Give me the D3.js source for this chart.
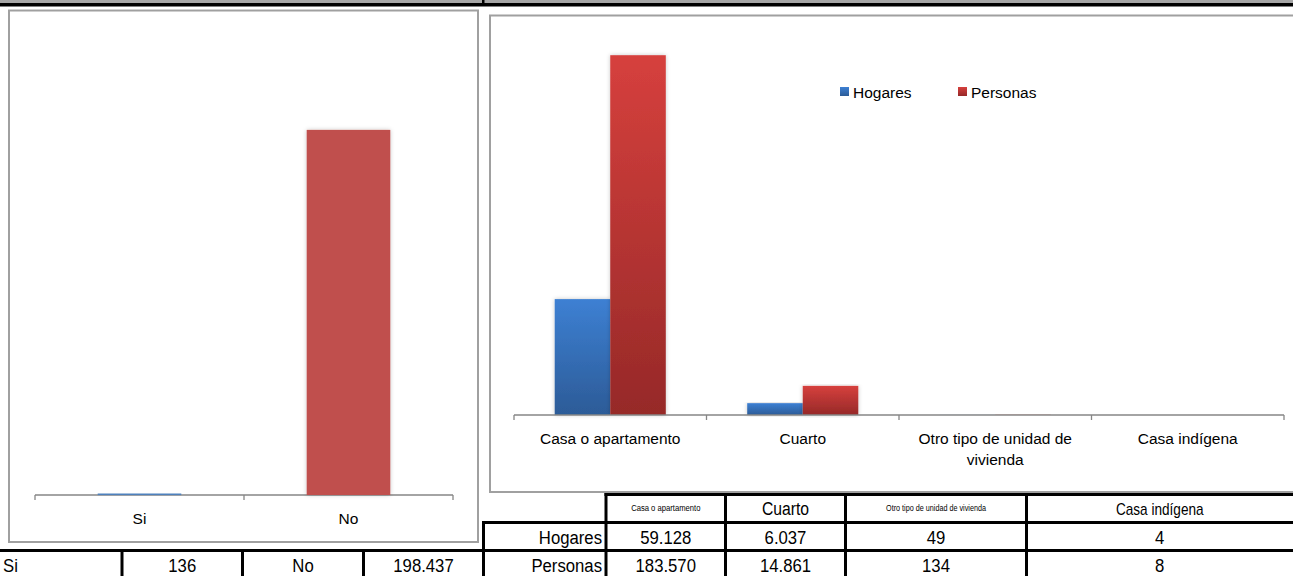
<!DOCTYPE html>
<html><head><meta charset="utf-8">
<script src="https://cdn.jsdelivr.net/npm/d3@7/dist/d3.min.js"></script>
<style>
body{margin:0;background:#fff;}
svg{display:block;}
text{font-family:"Liberation Sans",Arial,sans-serif;fill:#000;}
</style></head><body>
<svg id="c" width="1293" height="576"></svg>
<script>
// ---- data ----
const leftCategories = ["Si", "No"];
const leftValues = [136, 198437];
const categories = ["Casa o apartamento", "Cuarto", "Otro tipo de unidad de vivienda", "Casa indígena"];
const seriesNames = ["Hogares", "Personas"];
const hogares = [59128, 6037, 49, 4];
const personas = [183570, 14861, 134, 8];

const svg = d3.select("#c");
const loc = d3.formatLocale({decimal: ",", thousands: ".", grouping: [3], currency: ["$", ""]});
const fmt = loc.format(",d");

const defs = svg.append("defs");
const f = defs.append("filter").attr("id", "sh").attr("x", "-20%").attr("y", "-5%").attr("width", "140%").attr("height", "115%");
f.append("feDropShadow").attr("dx", 0).attr("dy", 0).attr("stdDeviation", 2.2).attr("flood-color", "#000").attr("flood-opacity", 0.22);
function grad(id, c1, c2) {
  const g = defs.append("linearGradient").attr("id", id).attr("x1", 0).attr("y1", 0).attr("x2", 0).attr("y2", 1);
  g.append("stop").attr("offset", "0%").attr("stop-color", c1);
  g.append("stop").attr("offset", "100%").attr("stop-color", c2);
}
grad("gB", "#3d80d3", "#2c5b97");
grad("gR", "#d6403d", "#962928");
const seriesFill = ["url(#gB)", "url(#gR)"];

// ---- top band ----
svg.append("rect").attr("x", 0).attr("y", 0).attr("width", 1293).attr("height", 3.5).attr("fill", "#a6a6a6");
svg.append("rect").attr("x", 0).attr("y", 3).attr("width", 1293).attr("height", 3.5).attr("fill", "#000");
svg.append("rect").attr("x", 482).attr("y", 0).attr("width", 2.5).attr("height", 4).attr("fill", "#000");

// ---- left chart frame ----
svg.append("rect").attr("x", 9).attr("y", 10.5).attr("width", 469).attr("height", 531.5)
  .attr("fill", "#fff").attr("stroke", "#a0a0a0").attr("stroke-width", 2);

const lx = d3.scaleBand().domain(leftCategories).range([35, 453]).paddingInner(0).paddingOuter(0);
const ly = d3.scaleLinear().domain([0, 250000]).range([495, 35]);
const lcol = ["#4f81bd", "#c0504d"];

const lax = svg.append("g").attr("transform", "translate(0,495)")
  .call(d3.axisBottom(lx).tickSize(0).tickPadding(0).tickFormat(""));
lax.select(".domain").remove();
lax.append("line").attr("x1", 35).attr("x2", 453).attr("stroke", "#868686").attr("stroke-width", 1.3);
[35, 244, 453].forEach(x => lax.append("line").attr("x1", x).attr("x2", x).attr("y1", 0).attr("y2", 5).attr("stroke", "#868686").attr("stroke-width", 1.3));

svg.append("g").selectAll("rect").data(leftValues).join("rect")
  .attr("x", (d, i) => lx(leftCategories[i]) + lx.bandwidth() * 0.3)
  .attr("width", lx.bandwidth() * 0.4)
  .attr("y", d => Math.min(ly(d), 493.5))
  .attr("height", d => Math.max(495 - ly(d), 1.6))
  .attr("fill", (d, i) => lcol[i])
  .attr("filter", (d, i) => i === 1 ? "url(#sh)" : null);

svg.append("g").selectAll("text").data(leftCategories).join("text")
  .attr("x", d => lx(d) + lx.bandwidth() / 2).attr("y", 524)
  .attr("text-anchor", "middle").attr("font-size", 15.5).text(d => d);

// ---- right chart frame ----
svg.append("rect").attr("x", 490).attr("y", 15.5).attr("width", 820).attr("height", 476.5)
  .attr("fill", "#fff").attr("stroke", "#a0a0a0").attr("stroke-width", 2);

const x0 = d3.scaleBand().domain(categories).range([514, 1284]);
const x1 = d3.scaleBand().domain(seriesNames).range([0, x0.bandwidth() * 0.577]);
const y = d3.scaleLinear().domain([0, 200000]).range([415, 23]);
const offs = x0.bandwidth() * (1 - 0.577) / 2;
const rows = categories.map((c, i) => ({c, vals: [hogares[i], personas[i]]}));
const gg = svg.append("g").selectAll("g").data(rows).join("g")
  .attr("transform", d => `translate(${x0(d.c) + offs},0)`);
gg.selectAll("rect").data(d => d.vals.map((v, j) => ({v, j}))).join("rect")
  .attr("x", d => x1(seriesNames[d.j]))
  .attr("width", x1.bandwidth())
  .attr("y", d => y(d.v))
  .attr("height", d => 415 - y(d.v))
  .attr("fill", d => seriesFill[d.j])
  .attr("filter", "url(#sh)");

const rax = svg.append("g").attr("transform", "translate(0,415)");
rax.append("line").attr("x1", 514).attr("x2", 1284).attr("stroke", "#868686").attr("stroke-width", 1.3);
const tickXs = categories.map(c => x0(c)).concat([x0.range()[1]]);
rax.selectAll("line.t").data(tickXs).join("line").attr("class", "t")
  .attr("x1", d => d).attr("x2", d => d).attr("y1", 0).attr("y2", 5)
  .attr("stroke", "#868686").attr("stroke-width", 1.3);

// wrapped labels
const lab = svg.append("g").selectAll("text").data(categories).join("text")
  .attr("text-anchor", "middle").attr("font-size", 15.5)
  .attr("x", d => x0(d) + x0.bandwidth() / 2).attr("y", 444);
lab.each(function (d) {
  const t = d3.select(this);
  const words = d.split(" ");
  let line = [], lines = [];
  const tmp = t.append("tspan");
  words.forEach(w => {
    line.push(w);
    tmp.text(line.join(" "));
    if (tmp.node().getComputedTextLength() > 165 && line.length > 1) {
      line.pop(); lines.push(line.join(" ")); line = [w];
    }
  });
  lines.push(line.join(" "));
  tmp.remove();
  lines.forEach((l, k) => t.append("tspan").attr("x", x0(d) + x0.bandwidth() / 2).attr("dy", k ? 21 : 0).text(l));
});

// legend
const leg = svg.append("g");
const legX = [840, 958];
seriesNames.forEach((s, i) => {
  leg.append("rect").attr("x", legX[i]).attr("y", 87).attr("width", 9).attr("height", 9).attr("fill", seriesFill[i]);
  leg.append("text").attr("x", legX[i] + 13).attr("y", 97.5).attr("font-size", 15.5).text(s);
});

// ---- tables ----
const tb = svg.append("g");
const L = (x1_, y1_, x2_, y2_) => tb.append("line").attr("x1", x1_).attr("y1", y1_).attr("x2", x2_).attr("y2", y2_)
  .attr("stroke", "#000").attr("stroke-width", 3);
L(604.5, 494.5, 1293, 494.5);
L(482, 522.5, 1293, 522.5);
L(0, 550.5, 1293, 550.5);
L(483.5, 521, 483.5, 576);
[606, 725.5, 845.5, 1026.5].forEach(xx => L(xx, 493, xx, 576));
[122, 242.5, 363.5].forEach(xx => L(xx, 549, xx, 576));

// narrow text helper (condensed look)
function ntext(g, x, yy, str, size, anchor, sx) {
  g.append("text").attr("transform", `translate(${x},${yy}) scale(${sx},1)`)
    .attr("text-anchor", anchor).attr("font-size", size).text(str);
}

const colX = [606, 725.5, 845.5, 1026.5, 1293];
const hdrSize = [9, 18.5, 8.5, 16];
categories.forEach((c, i) => {
  ntext(tb, (colX[i] + colX[i + 1]) / 2, hdrSize[i] < 10 ? 511 : 514.5, c, hdrSize[i], "middle", 0.85);
});

const rowY = [543.5, 571.5];
[hogares, personas].forEach((arr, r) => {
  ntext(tb, 602, rowY[r], seriesNames[r], 19, "end", 0.88);
  arr.forEach((v, i) => ntext(tb, (colX[i] + colX[i + 1]) / 2, rowY[r], fmt(v), 19, "middle", 0.88));
});

const leftCellX = [0, 122, 242.5, 363.5, 483.5];
const leftCells = [leftCategories[0], fmt(leftValues[0]), leftCategories[1], fmt(leftValues[1])];
leftCells.forEach((s, i) => {
  ntext(tb, i === 0 ? 3 : (leftCellX[i] + leftCellX[i + 1]) / 2, 571.5, s, 19, i === 0 ? "start" : "middle", 0.88);
});
</script>
</body></html>
